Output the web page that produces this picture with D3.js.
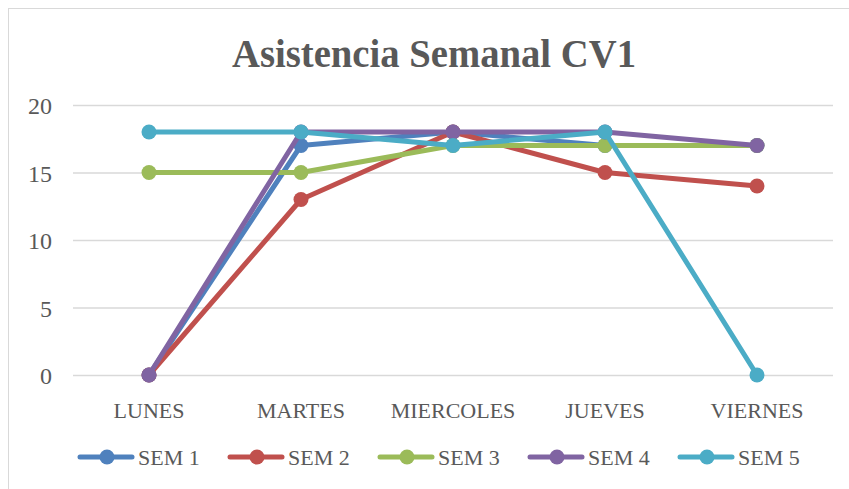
<!DOCTYPE html>
<html><head><meta charset="utf-8">
<script src="https://cdn.jsdelivr.net/npm/d3@7"></script>
<style>body{margin:0;background:#fff}svg{display:block}</style>
</head><body>
<script>
const categories = ["LUNES","MARTES","MIERCOLES","JUEVES","VIERNES"];
const seriesNames = ["SEM 1","SEM 2","SEM 3","SEM 4","SEM 5"];
const sem1 = [0,17,18,17,17];
const sem2 = [0,13,18,15,14];
const sem3 = [15,15,17,17,17];
const sem4 = [0,18,18,18,17];
const sem5 = [18,18,17,18,0];
const yTicks = [0,5,10,15,20];
const colors = ["#4F81BD","#C0504D","#9BBB59","#8064A2","#4BACC6"];
const seriesValues = [sem1,sem2,sem3,sem4,sem5];

const W=849,H=489;
const svg=d3.select("body").append("svg").attr("width",W).attr("height",H);
svg.append("rect").attr("x",8.5).attr("y",8.5).attr("width",W+10).attr("height",H+10)
  .attr("fill","#fff").attr("stroke","#d9d9d9").attr("stroke-width",1);

const font="'Liberation Serif', 'DejaVu Serif', serif";
const txt="#595959";

svg.append("text").attr("x",434).attr("y",67).attr("text-anchor","middle")
  .attr("font-family",font).attr("font-weight","bold").attr("font-size",40)
  .attr("fill",txt).attr("textLength",404).attr("lengthAdjust","spacingAndGlyphs")
  .text("Asistencia Semanal CV1");

const x=d3.scaleBand().domain(categories).range([73,833]);
const y=d3.scaleLinear().domain([0,20]).range([375,105]);

const grid=svg.append("g");
grid.selectAll("line").data(yTicks).join("line")
  .attr("x1",73).attr("x2",833).attr("y1",d=>y(d)+0.5).attr("y2",d=>y(d)+0.5)
  .attr("stroke","#d9d9d9").attr("stroke-width",1.5);

const yAxis=svg.append("g").attr("transform","translate(52,0)")
  .call(d3.axisLeft(y).tickValues(yTicks).tickSize(0).tickPadding(0));
yAxis.select(".domain").remove();
yAxis.selectAll("text").attr("font-family",font).attr("font-size",24).attr("fill",txt)
  .attr("dy",null).attr("y",8.5);

const xAxis=svg.append("g").attr("transform","translate(0,375)")
  .call(d3.axisBottom(x).tickSize(0).tickPadding(0));
xAxis.select(".domain").remove();
xAxis.selectAll("text").attr("font-family",font).attr("font-size",22).attr("fill",txt)
  .attr("dy",null).attr("y",43);

const cx=d=>x(d)+x.bandwidth()/2;
const line=d3.line().x((v,i)=>cx(categories[i])).y(v=>y(v));
seriesValues.forEach((vals,k)=>{
  const g=svg.append("g");
  g.append("path").attr("d",line(vals)).attr("fill","none").attr("stroke",colors[k])
    .attr("stroke-width",5).attr("stroke-linejoin","round").attr("stroke-linecap","round");
  g.selectAll("circle").data(vals).join("circle")
    .attr("cx",(v,i)=>cx(categories[i])).attr("cy",v=>y(v)).attr("r",7.5).attr("fill",colors[k]);
});

const leg=svg.append("g");
seriesNames.forEach((n,k)=>{
  const lx=78+k*150, ly=457;
  leg.append("line").attr("x1",lx+2).attr("x2",lx+54).attr("y1",ly).attr("y2",ly)
    .attr("stroke",colors[k]).attr("stroke-width",5).attr("stroke-linecap","round");
  leg.append("circle").attr("cx",lx+29).attr("cy",ly).attr("r",7.5).attr("fill",colors[k]);
  leg.append("text").attr("x",lx+60).attr("y",ly+8).attr("font-family",font)
    .attr("font-size",22).attr("fill",txt).text(n);
});
</script>
</body></html>
